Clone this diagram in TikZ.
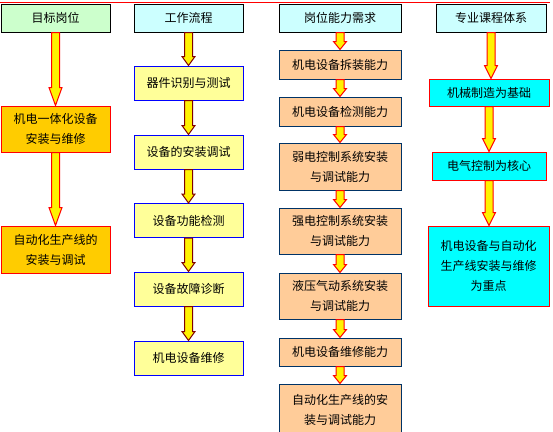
\documentclass[tikz,border=0pt]{standalone}
\usepackage{fontspec}
\setmainfont{Noto Sans CJK SC}
\usetikzlibrary{calc}
\definecolor{hdgreen}{HTML}{CCFFCC}
\definecolor{hdcyan}{HTML}{CCFFFF}
\definecolor{gold}{HTML}{FFCC00}
\definecolor{paleyel}{HTML}{FFFF99}
\definecolor{peach}{HTML}{FFCC99}
\definecolor{aqua}{HTML}{00FFFF}
\definecolor{navy}{HTML}{003366}
\definecolor{maroon}{HTML}{800000}

\begin{document}
\begin{tikzpicture}[x=1pt,y=-1pt,
  box/.style={draw, line width=1pt, inner sep=0pt, align=center,
    font=\fontsize{12}{20}\selectfont},
  head/.style={box, fill=#1, draw=black, minimum height=28pt},
  blockarr/.style={fill=yellow, draw=red, line width=1pt, line join=miter,
    to path={let \p1=(\tikztostart), \p2=(\tikztotarget) in
      (\x1-4pt,\y1) -- (\x1+4pt,\y1) -- (\x1+4pt,\y2+#1pt) -- (\x1+6.5pt,\y2+#1pt)
      -- (\x1,\y2) -- (\x1-6.5pt,\y2+#1pt) -- (\x1-4pt,\y2+#1pt) -- cycle}},
  blockarr/.default=10]
  \useasboundingbox (0,0) rectangle (553,431);
  \draw[red, line width=1pt] (0,2) -- (550,2);

  % column 1
  \node[head=hdgreen, minimum width=109pt] (hd1) at (55.5,18) {目标岗位};
  \node[box, fill=gold, draw=red, minimum width=109pt, minimum height=46pt] (job1) at (55.5,129) {机电一体化设备\\安装与维修};
  \node[box, fill=gold, draw=red, minimum width=109pt, minimum height=47pt] (job2) at (55.5,249.5) {自动化生产线的\\安装与调试};

  % column 2
  \node[head=hdcyan, minimum width=109pt] (hd2) at (188.5,18) {工作流程};
  \node[box, fill=paleyel, draw=blue, minimum width=109pt, minimum height=34pt] (flow1) at (188.5,83)    {器件识别与测试};
  \node[box, fill=paleyel, draw=blue, minimum width=109pt, minimum height=34pt] (flow2) at (188.5,152)   {设备的安装调试};
  \node[box, fill=paleyel, draw=blue, minimum width=109pt, minimum height=34pt] (flow3) at (188.5,220.5) {设备功能检测};
  \node[box, fill=paleyel, draw=blue, minimum width=109pt, minimum height=34pt] (flow4) at (188.5,289)   {设备故障诊断};
  \node[box, fill=paleyel, draw=blue, minimum width=109pt, minimum height=34pt] (flow5) at (188.5,358)   {机电设备维修};

  % column 3
  \node[head=hdcyan, minimum width=122pt] (hd3) at (340,18) {岗位能力需求};
  \node[box, fill=peach, draw=navy, minimum width=122pt, minimum height=29pt] (abil1) at (340,64.5)  {机电设备拆装能力};
  \node[box, fill=peach, draw=navy, minimum width=122pt, minimum height=29pt] (abil2) at (340,111.5) {机电设备检测能力};
  \node[box, fill=peach, draw=navy, minimum width=122pt, minimum height=47pt] (abil3) at (340,166.5) {弱电控制系统安装\\与调试能力};
  \node[box, fill=peach, draw=navy, minimum width=122pt, minimum height=46pt] (abil4) at (340,231)   {强电控制系统安装\\与调试能力};
  \node[box, fill=peach, draw=navy, minimum width=122pt, minimum height=46pt] (abil5) at (340,296)   {液压气动系统安装\\与调试能力};
  \node[box, fill=peach, draw=navy, minimum width=122pt, minimum height=28pt] (abil6) at (340,352)   {机电设备维修能力};
  \node[box, fill=peach, draw=navy, minimum width=122pt, minimum height=52pt] (abil7) at (340,410)   {自动化生产线的安\\装与调试能力};

  % column 4
  \node[head=hdcyan, minimum width=110pt] (hd4) at (491,18) {专业课程体系};
  \node[box, fill=aqua, draw=red, minimum width=120pt, minimum height=27pt] (crs1) at (489,92.5) {机械制造为基础};
  \node[box, fill=aqua, draw=red, minimum width=114pt, minimum height=28pt] (crs2) at (489,166)  {电气控制为核心};
  \node[box, fill=aqua, draw=red, minimum width=121pt, minimum height=80pt] (crs3) at (488.5,266) {机电设备与自动化\\生产线安装与维修\\为重点};

  % arrows
  \draw[blockarr=18] (hd1.south) to (job1.north);
  \draw[blockarr=18] (job1.south) to (job2.north);
  \foreach \a/\b in {hd2/flow1, flow1/flow2, flow2/flow3, flow3/flow4, flow4/flow5}
    \draw[blockarr=9, draw=maroon] (\a.south) to (\b.north);
  \foreach \a/\b in {hd3/abil1, abil1/abil2, abil2/abil3, abil3/abil4, abil4/abil5, abil5/abil6, abil6/abil7}
    \draw[blockarr=8] (\a.south) to (\b.north);
  \draw[blockarr=13] (hd4.south) to (crs1.north);
  \draw[blockarr=13] (crs1.south) to (crs2.north);
  \draw[blockarr=13] (crs2.south) to (crs3.north);
\end{tikzpicture}
\end{document}
